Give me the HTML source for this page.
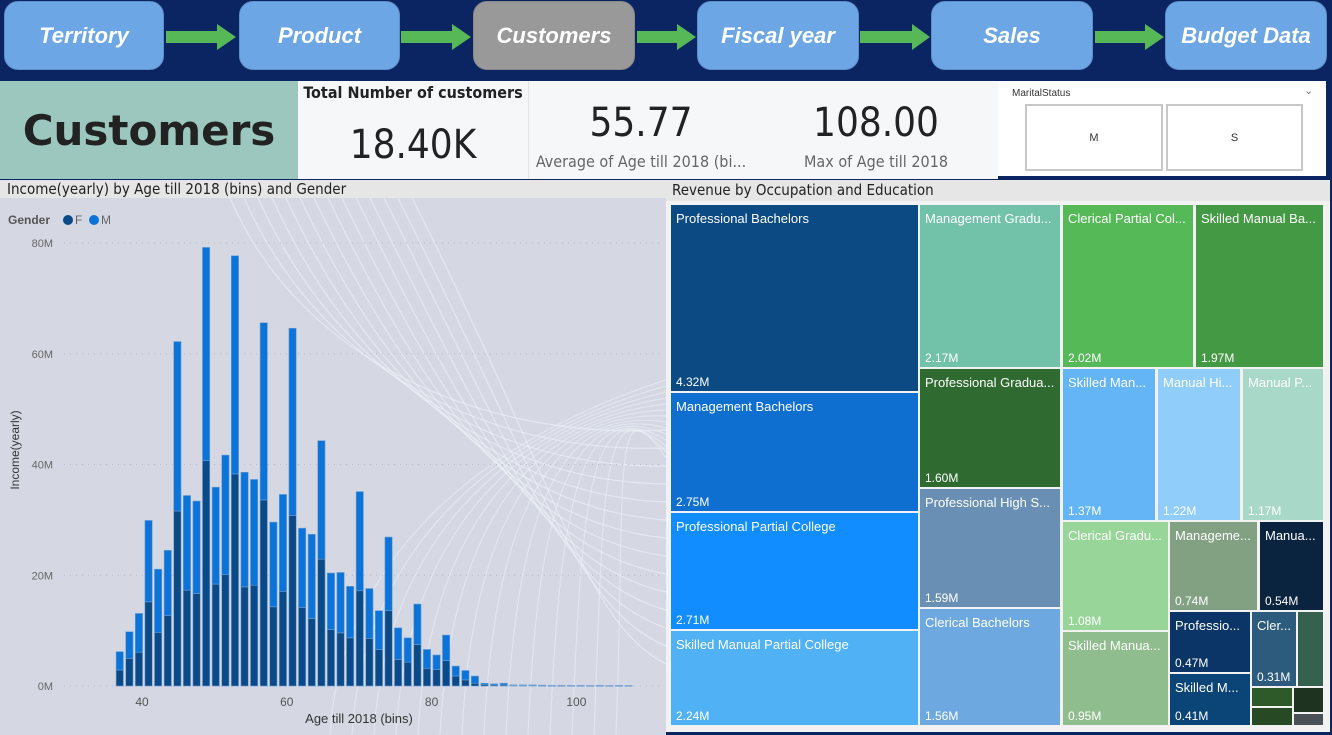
<!DOCTYPE html>
<html><head><meta charset="utf-8">
<style>
*{box-sizing:border-box;margin:0;padding:0}
body{width:1332px;height:735px;overflow:hidden;background:#0b2562;font-family:"Liberation Sans",sans-serif;position:relative}
.abs{position:absolute}
.nav{border-radius:14px;background:#6ca6e4;color:#fff;font-weight:bold;font-style:italic;font-size:22px;display:flex;align-items:center;justify-content:center;top:1px;height:69px;border:1px solid #5d8fc8}
.arrow{top:24px;height:26px}
.kpi{font-family:"DejaVu Sans Condensed","Liberation Sans",sans-serif;color:#222;text-align:center}
.tm{position:absolute;color:#fff;font-size:13px;overflow:hidden;white-space:nowrap}
.tm .n{position:absolute;left:5px;top:6px}
.tm .v{position:absolute;left:5px;bottom:2px;font-size:12px}
</style></head><body>
<div class="abs" style="left:0;top:0;width:1332px;height:80px;background:#0b2562"></div>
<div class="abs nav" style="left:4px;width:160px">Territory</div>
<div class="abs nav" style="left:239px;width:161px">Product</div>
<div class="abs nav" style="left:473px;width:162px;background:#999;border-color:#888">Customers</div>
<div class="abs nav" style="left:697px;width:162px">Fiscal year</div>
<div class="abs nav" style="left:931px;width:162px">Sales</div>
<div class="abs nav" style="left:1165px;width:162px">Budget Data</div>
<svg class="abs" style="left:0;top:0" width="1332" height="80">
<g fill="#56b856">
<polygon points="166,31 217,31 217,24 236,37 217,50 217,43 166,43"/>
<polygon points="401,31 452,31 452,24 471,37 452,50 452,43 401,43"/>
<polygon points="637,31 677,31 677,24 696,37 677,50 677,43 637,43"/>
<polygon points="860,31 912,31 912,24 930,37 912,50 912,43 860,43"/>
<polygon points="1095,31 1145,31 1145,24 1164,37 1145,50 1145,43 1095,43"/>
</g></svg>

<div class="abs" style="left:0;top:81px;width:298px;height:98px;background:#9cc7bf;display:flex;align-items:center;justify-content:center;font-family:'DejaVu Sans','Liberation Sans',sans-serif;font-weight:bold;font-size:42px;color:#222">Customers</div>
<div class="abs" style="left:298px;top:81px;width:700px;height:98px;background:#f6f7f9"></div>
<div class="abs" style="left:528px;top:81px;width:1px;height:98px;background:#e4e4e4"></div>
<div class="abs kpi" style="left:298px;top:83px;width:230px;font-weight:bold;font-size:16px">Total Number of customers</div>
<div class="abs kpi" style="left:298px;top:122px;width:230px;font-size:40px">18.40K</div>
<div class="abs kpi" style="left:530px;top:100px;width:222px;font-size:40px">55.77</div>
<div class="abs kpi" style="left:530px;top:152px;width:222px;font-size:16px;color:#666">Average of Age till 2018 (bi...</div>
<div class="abs kpi" style="left:765px;top:100px;width:222px;font-size:40px">108.00</div>
<div class="abs kpi" style="left:765px;top:152px;width:222px;font-size:16px;color:#666">Max of Age till 2018</div>
<div class="abs" style="left:998px;top:81px;width:328px;height:97px;background:#fff;border-bottom:2px solid #0b2562"></div>
<div class="abs" style="left:1012px;top:88px;font-size:10px;color:#333">MaritalStatus</div>
<div class="abs" style="left:1304px;top:84px;font-size:11px;color:#777">⌄</div>
<div class="abs" style="left:1025px;top:104px;width:138px;height:67px;border:2px solid #c8c8c8;display:flex;align-items:center;justify-content:center;font-size:11px;color:#333">M</div>
<div class="abs" style="left:1166px;top:104px;width:137px;height:67px;border:2px solid #c8c8c8;display:flex;align-items:center;justify-content:center;font-size:11px;color:#333">S</div>

<!-- bar chart -->
<div class="abs" style="left:0;top:180px;width:666px;height:18px;background:#e6e6e6;font-family:'DejaVu Sans Condensed','Liberation Sans',sans-serif;font-size:15px;color:#222;padding-left:7px;line-height:18px">Income(yearly) by Age till 2018 (bins) and Gender</div>
<svg class="abs" id="bar" style="left:0;top:180px" width="666" height="555"></svg>

<!-- treemap -->
<div class="abs" style="left:666px;top:180px;width:664px;height:552px;background:#f2f2f2"></div>
<div class="abs" style="left:666px;top:180px;width:664px;height:21px;background:#e6e6e6;font-family:'DejaVu Sans Condensed','Liberation Sans',sans-serif;font-size:15px;color:#222;padding-left:6px;line-height:21px">Revenue by Occupation and Education</div>
<div class="abs" id="tm" style="left:0;top:0"></div>

<script>
// ---- bar chart data ----
const ages=[36.92,38.25,39.57,40.90,42.22,43.55,44.88,46.20,47.53,48.85,50.18,51.51,52.83,54.16,55.48,56.81,58.14,59.46,60.79,62.11,63.44,64.77,66.09,67.42,68.74,70.07,71.40,72.72,74.05,75.37,76.70,78.03,79.35,80.68,82.00,83.33,84.66,85.98,87.31,88.63,89.96,91.29,92.61,93.94,95.26,96.59,97.92,99.24,100.57,101.89,103.22,104.55,105.87,107.20];
const femaleIncome=[2.9,5.0,6.1,15.2,9.7,12.7,31.6,17.3,16.7,40.7,18.4,20.1,38.3,17.9,18.2,33.6,14.3,17.1,30.8,14.2,12.2,22.9,10.2,9.6,8.7,17.2,8.6,6.6,13.6,4.8,4.3,7.5,3.2,3.0,4.6,1.8,1.1,0.5,0.3,0.2,0.2,0.1,0.1,0.1,0.07,0.05,0.05,0.05,0.05,0.04,0.05,0.04,0.05,0.04];
const maleIncome=[3.3,4.8,7.0,14.7,11.4,11.8,30.6,17.1,16.7,38.5,17.5,21.6,39.4,20.7,19.1,32.0,15.3,17.5,33.8,14.3,15.2,21.4,10.2,10.9,9.3,17.9,9.0,7.0,13.3,5.7,4.4,7.3,3.4,2.6,4.6,1.8,1.7,1.3,0.2,0.2,0.3,0.1,0.1,0.1,0.08,0.05,0.05,0.05,0.05,0.04,0.05,0.04,0.05,0.04];
const yTicks=[0,20,40,60,80];
const xTicks=[40,60,80,100];

const NS='http://www.w3.org/2000/svg';
const svg=document.getElementById('bar');
function X(a){return 142+(a-40)*7.24;}
function Y(v){return 506-v*5.5375;}
function mk(t,attrs,txt){const e=document.createElementNS(NS,t);for(const k in attrs)e.setAttribute(k,attrs[k]);if(txt!==undefined)e.textContent=txt;svg.appendChild(e);return e;}
let bg=mk('rect',{x:0,y:18,width:666,height:537,fill:'#d5d8e3'});


// decorative swirls
for(let i=0;i<14;i++){
 let p=mk('path',{d:`M ${230+i*14} 18 C ${300+i*20} ${180+i*10}, ${480+i*8} ${260+i*14}, 666 ${250+i*18}`,stroke:'#eef6fa',fill:'none','stroke-width':1.2,opacity:0.55});
 
 
 let q=mk('path',{d:`M ${330+i*22} 555 C ${340+i*22} ${380-i*6}, ${480+i*10} ${260-i*5}, 666 ${200+i*6}`,stroke:'#eef6fa',fill:'none','stroke-width':1.2,opacity:0.45});
 
 
}
yTicks.forEach(t=>{
 let g=mk('line',{x1:64,x2:660,y1:Y(t),y2:Y(t),stroke:'#b8bcc6','stroke-dasharray':'1 5'});
 
 
 let l=mk('text',{x:53,y:Y(t)+4,'text-anchor':'end','font-size':11,fill:'#666'},t+'M');
 
 
});
xTicks.forEach(t=>{
 let l=mk('text',{x:X(t),y:526,'text-anchor':'middle','font-size':12,fill:'#555'},t);
 
 
});
ages.forEach((a,i)=>{
 const cx=119.7+(a-36.92)/1.326*9.6;
 const f=femaleIncome[i],m=maleIncome[i];
 let rf=mk('rect',{x:X(a)-3.6,y:Y(f),width:7.3,height:Math.max(0.5,f*5.5375),fill:'#0b4a86',stroke:'#6a9fd6','stroke-width':0.6});
 
 
 let rm=mk('rect',{x:X(a)-3.6,y:Y(f+m),width:7.3,height:Math.max(0.5,m*5.5375),fill:'#0c74d9',stroke:'#6a9fd6','stroke-width':0.6});
 
 
});
let yt=mk('text',{x:0,y:0,transform:'translate(19,270) rotate(-90)','text-anchor':'middle','font-size':12,fill:'#333'},'Income(yearly)');


let xt=mk('text',{x:359,y:543,'text-anchor':'middle','font-size':13,fill:'#333'},'Age till 2018 (bins)');


let lg=mk('text',{x:8,y:44,'font-size':12,'font-weight':'bold',fill:'#555'},'Gender');


let c1=mk('circle',{cx:68,cy:40,r:5,fill:'#0b4a86'});


let t1=mk('text',{x:75,y:44,'font-size':12,fill:'#666'},'F');


let c2=mk('circle',{cx:94,cy:40,r:5,fill:'#0c74d9'});


let t2=mk('text',{x:101,y:44,'font-size':12,fill:'#666'},'M');



// ---- treemap data ----
const tmNames=["Professional Bachelors","Management Bachelors","Professional Partial College","Skilled Manual Partial College","Management Gradu...","Clerical Partial Col...","Skilled Manual Ba...","Professional Gradua...","Professional High S...","Clerical Bachelors","Skilled Man...","Manual Hi...","Manual P...","Clerical Gradu...","Skilled Manua...","Manageme...","Manua...","Professio...","Skilled M...","Cler...","","","","",""];
const tmValues=["4.32M","2.75M","2.71M","2.24M","2.17M","2.02M","1.97M","1.60M","1.59M","1.56M","1.37M","1.22M","1.17M","1.08M","0.95M","0.74M","0.54M","0.47M","0.41M","0.31M","","","","",""];
const tmColors=["#0b4a82","#0f6fd0","#118dff","#51b1f5","#72c2aa","#56b957","#449944","#2f6b30","#6990b4","#6ea8e0","#64b5f6","#90cdfb","#a8d8c8","#98d598","#8fbd8d","#82a182","#0a2440","#0a3566","#0b4577","#2d5b7e","#35614f","#2e5a2a","#1e3320","#274a25","#4a5258"];
const tmRects=[[671,205,247,186],[671,393,247,118],[671,513,247,116],[671,631,247,94],[920,205,140,162],[1063,205,130,162],[1196,205,127,162],[920,369,140,118],[920,489,140,118],[920,609,140,116],[1063,369,92,151],[1158,369,82,151],[1243,369,80,151],[1063,522,105,108],[1063,632,105,93],[1170,522,87,88],[1260,522,63,88],[1170,612,80,60],[1170,674,80,51],[1252,612,44,74],[1298,612,25,74],[1252,688,40,18],[1294,688,29,24],[1252,708,40,17],[1294,714,29,11]];
const tm=document.getElementById('tm');
tmRects.forEach((r,i)=>{
 const d=document.createElement('div');
 d.className='tm';
 d.style.cssText=`left:${r[0]}px;top:${r[1]}px;width:${r[2]}px;height:${r[3]}px;background:${tmColors[i]}`;
 
 
 if(tmNames[i]){const n=document.createElement('span');n.className='n';n.textContent=tmNames[i];d.appendChild(n);}
 if(tmValues[i]){const v=document.createElement('span');v.className='v';v.textContent=tmValues[i];d.appendChild(v);}
 tm.appendChild(d);
});
</script>
</body></html>
